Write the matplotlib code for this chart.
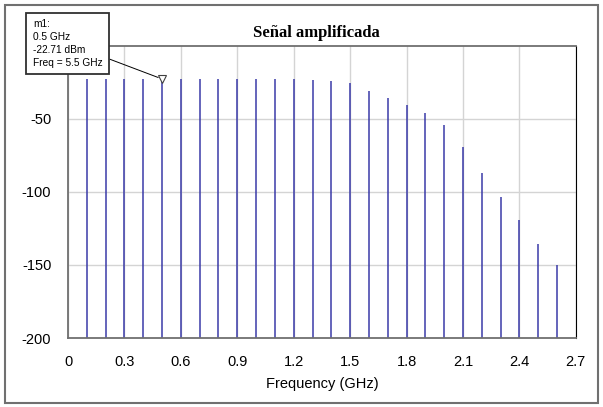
import matplotlib
matplotlib.use("Agg")
import matplotlib.pyplot as plt
from matplotlib.patches import Rectangle

# spectrum values (GHz, dBm)
freq = [0.1, 0.2, 0.3, 0.4, 0.5, 0.6, 0.7, 0.8, 0.9, 1.0, 1.1, 1.2, 1.3,
        1.4, 1.5, 1.6, 1.7, 1.8, 1.9, 2.0, 2.1, 2.2, 2.3, 2.4, 2.5, 2.6]
power = [-22.7, -22.7, -22.7, -22.7, -22.71, -22.7, -22.7, -22.7, -22.7, -22.7,
         -22.8, -22.9, -23.2, -23.8, -25.8, -31.0, -35.8, -40.8, -46.3, -54.1,
         -69.6, -87.4, -103.4, -119.4, -135.6, -150.2]
xticks = [0, 0.3, 0.6, 0.9, 1.2, 1.5, 1.8, 2.1, 2.4, 2.7]
xtick_labels = ["0", "0.3", "0.6", "0.9", "1.2", "1.5", "1.8", "2.1", "2.4", "2.7"]
yticks = [-200, -150, -100, -50]
marker_f = 0.5
marker_p = -22.71
marker_text = "m1:\n0.5 GHz\n-22.71 dBm\nFreq = 5.5 GHz"

plt.rcParams["font.family"] = "Liberation Sans"
plt.rcParams["axes.unicode_minus"] = False

fig = plt.figure(figsize=(6.03, 4.07), dpi=100)
ax = fig.add_axes([0.1128, 0.1695, 0.8422, 0.718])

# outer frame around everything
fig.patches.append(Rectangle((0.009, 0.01), 0.982, 0.978, transform=fig.transFigure,
                             fill=False, edgecolor="#707070", linewidth=1.5))

ax.vlines(freq, -200, power, colors="#3a3aa8", linewidth=1.1)

ax.set_xlim(0, 2.7)
ax.set_ylim(-200, 0)
ax.set_xticks(xticks)
ax.set_xticklabels(xtick_labels)
ax.set_yticks(yticks)
ax.tick_params(length=0, labelsize=10.5, pad=12, colors="black")
ax.tick_params(axis="y", pad=12)
ax.grid(True, color="#d4d4d4", linewidth=1)
ax.set_axisbelow(True)
for s in ["left", "bottom", "top"]:
    ax.spines[s].set_color("#707070")
    ax.spines[s].set_linewidth(1.3)
ax.spines["right"].set_color("black")

ax.set_xlabel("Frequency (GHz)", fontsize=10.5, labelpad=6)
ax.set_title("Señal amplificada", fontsize=12, fontweight="bold",
             family="Liberation Serif", pad=6, x=0.49)

# marker
ax.plot([marker_f], [marker_p], marker="v", markersize=6, markerfacecolor="white",
        markeredgecolor="#404040", markeredgewidth=0.8, clip_on=False, zorder=5)
ax.annotate(marker_text, xy=(marker_f, marker_p), xycoords="data",
            xytext=(0.0547, 0.953), textcoords="figure fraction",
            fontsize=7.3, va="top", ha="left", linespacing=1.35,
            bbox=dict(boxstyle="square,pad=0.65", facecolor="white", edgecolor="#303030",
                      linewidth=1.3),
            arrowprops=dict(arrowstyle="-", color="black", linewidth=0.7,
                            shrinkA=0, shrinkB=3))

fig.savefig("out.png", dpi=100)
